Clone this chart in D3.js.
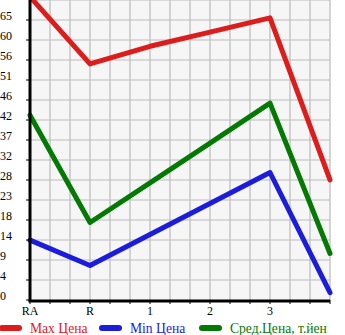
<!DOCTYPE html>
<html>
<head>
<meta charset="utf-8">
<script src="https://cdn.jsdelivr.net/npm/d3@7"></script>
<style>
	body { margin: 0; background: #fff; }
	svg { display: block; font-family: 'Liberation Serif', 'DejaVu Serif', serif; }
</style>
</head>
<body>
<div id="wrapper"></div>
<script>
const categories = [ 'RA', 'R', '1', '2', '3', '' ];
const maxPrice = [ 70.4, 54.8, 58.9, 62.2, 65.5, 27.9 ];
const minPrice = [ 13.9, 8.0, 15.2, 22.4, 29.6, 1.7 ];
const avgPrice = [ 42.9, 18.0, 27.2, 36.4, 45.7, 10.8 ];
const yTickLabels = [ '0', '4', '9', '14', '18', '23', '28', '32', '37', '42', '46', '51', '56', '60', '65' ];
const yStep = 65 / 14;

const series = [
	{ name: 'Max Цена', color: '#dd1c1c', values: maxPrice },
	{ name: 'Min Цена', color: '#1c1cdd', values: minPrice },
	{ name: 'Сред.Цена, т.йен', color: '#047a04', values: avgPrice }
];

const dimensions = {
	width: 345,
	height: 335,
	margin: { top: 0, right: 15, bottom: 35, left: 30 }
};
dimensions.boundedWidth = dimensions.width - dimensions.margin.left - dimensions.margin.right;
dimensions.boundedHeight = dimensions.height - dimensions.margin.top - dimensions.margin.bottom;

function drawChart() {
	const x = d3.scaleLinear().domain([ 0, categories.length - 1 ]).range([ 0, dimensions.boundedWidth ]);
	const y = d3.scaleLinear().domain([ 0, yStep * 15 ]).range([ dimensions.boundedHeight, 0 ]);

	const svg = d3.select('#wrapper').append('svg').attr('width', dimensions.width).attr('height', dimensions.height);
	const bounds = svg.append('g').attr('transform', `translate(${dimensions.margin.left}, ${dimensions.margin.top})`);

	bounds.append('rect')
		.attr('width', dimensions.boundedWidth)
		.attr('height', dimensions.boundedHeight)
		.attr('fill', '#f6f6f6');

	// grid: three minor steps between categories
	const xMinor = d3.range(0, (categories.length - 1) * 3 + 1).map((i) => i / 3);
	const yMinor = d3.range(0, 16).map((i) => i * yStep);

	bounds.append('g').selectAll('line').data(xMinor.slice(1)).join('line')
		.attr('x1', (d) => x(d)).attr('x2', (d) => x(d))
		.attr('y1', 0).attr('y2', dimensions.boundedHeight)
		.attr('stroke', '#bbbbbb').attr('stroke-width', 1.2);

	bounds.append('g').selectAll('line').data(yMinor.slice(1)).join('line')
		.attr('x1', 0).attr('x2', dimensions.boundedWidth)
		.attr('y1', (d) => y(d)).attr('y2', (d) => y(d))
		.attr('stroke', '#bbbbbb').attr('stroke-width', 1.2);

	// series lines
	const line = d3.line().x((d, i) => x(i)).y((d) => y(d));
	bounds.append('g').selectAll('path').data(series).join('path')
		.attr('d', (s) => line(s.values))
		.attr('fill', 'none')
		.attr('stroke', (s) => s.color)
		.attr('stroke-width', 5)
		.attr('stroke-linejoin', 'round')
		.attr('stroke-linecap', 'round');

	// y axis
	const yAxis = bounds.append('g');
	yAxis.selectAll('line.tick').data(yMinor.slice(0, 15)).join('line')
		.attr('class', 'tick')
		.attr('x1', -4).attr('x2', 0)
		.attr('y1', (d) => y(d)).attr('y2', (d) => y(d))
		.attr('stroke', '#000').attr('stroke-width', 1);
	yAxis.selectAll('text').data(yTickLabels).join('text')
		.attr('x', -dimensions.margin.left)
		.attr('y', (d, i) => y(i * yStep) - 0.5)
		.attr('font-size', 12)
		.attr('fill', '#000')
		.text((d) => d);
	yAxis.append('line')
		.attr('x1', 0).attr('x2', 0)
		.attr('y1', 0).attr('y2', dimensions.boundedHeight + 1.5)
		.attr('stroke', '#000').attr('stroke-width', 3);

	// x axis
	const xAxis = bounds.append('g').attr('transform', `translate(0, ${dimensions.boundedHeight})`);
	xAxis.selectAll('line.tick').data(xMinor).join('line')
		.attr('class', 'tick')
		.attr('x1', (d) => x(d)).attr('x2', (d) => x(d))
		.attr('y1', 0).attr('y2', 4)
		.attr('stroke', '#000').attr('stroke-width', 1);
	xAxis.append('line')
		.attr('x1', -1.5).attr('x2', dimensions.boundedWidth)
		.attr('y1', 1).attr('y2', 1)
		.attr('stroke', '#000').attr('stroke-width', 3);
	xAxis.selectAll('text').data(categories).join('text')
		.attr('x', (d, i) => x(i))
		.attr('y', 14.5)
		.attr('text-anchor', 'middle')
		.attr('font-size', 12)
		.attr('fill', '#000')
		.text((d) => d);

	// legend
	const legendX = [ 0, 100, 200 ];
	const legend = svg.append('g').attr('transform', 'translate(0, 328)');
	const item = legend.selectAll('g').data(series).join('g')
		.attr('transform', (d, i) => `translate(${legendX[i]}, 0)`);
	item.append('line')
		.attr('x1', 2).attr('x2', 19)
		.attr('y1', 0).attr('y2', 0)
		.attr('stroke', (d) => d.color)
		.attr('stroke-width', 6)
		.attr('stroke-linecap', 'round');
	item.append('text')
		.attr('x', 30)
		.attr('y', 4.5)
		.attr('font-size', 13.6)
		.attr('fill', (d) => d.color)
		.text((d) => d.name);
}
drawChart();
</script>
</body>
</html>
